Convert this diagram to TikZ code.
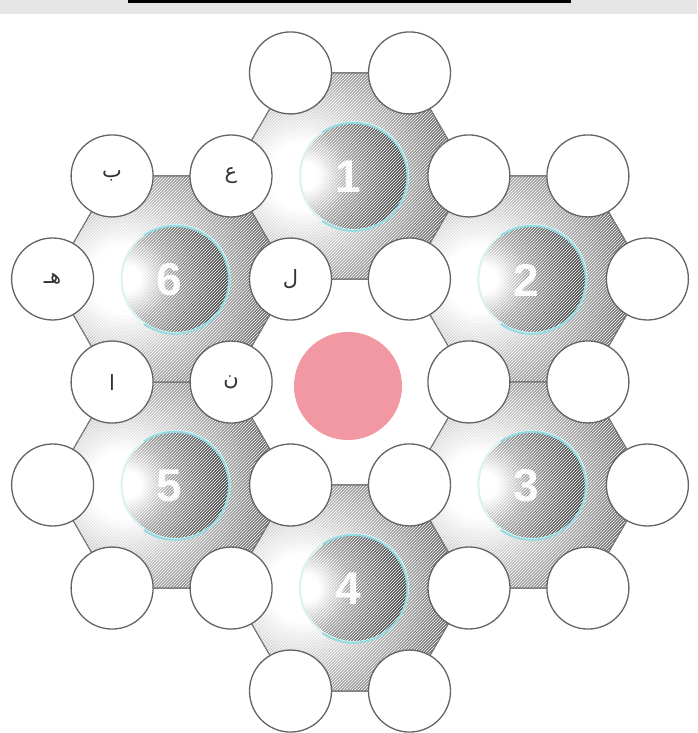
\documentclass[tikz,border=0pt]{standalone}
\usepackage{fontspec}
\newfontfamily\arabicfont[Script=Arabic]{DejaVu Sans}
\newfontfamily\digfont{Liberation Sans}
\TeXXeTstate=1
\usetikzlibrary{calc,patterns}
\definecolor{bandgray}{RGB}{229,229,229}
\definecolor{rimgray}{RGB}{100,100,100}
\definecolor{edgegray}{RGB}{120,120,120}
\definecolor{pinkc}{RGB}{242,152,162}
\definecolor{cyanring}{RGB}{150,218,225}
\definecolor{inkgray}{RGB}{50,50,50}
\def\hexpath#1{($(#1)+(0:119)$) -- ($(#1)+(60:119)$) -- ($(#1)+(120:119)$) -- ($(#1)+(180:119)$) -- ($(#1)+(240:119)$) -- ($(#1)+(300:119)$) -- cycle}
\begin{document}
\begin{tikzpicture}[x=1pt,y=1pt,
  spot/.style={circle, draw=rimgray, line width=1.3pt, fill=white, minimum size=82pt, inner sep=0pt,
    text=inkgray, font=\arabicfont\fontsize{21}{21}\selectfont},
  hatch/.style={pattern=north east lines, pattern color=white, fill opacity=.22},
  hexrim/.style={draw=edgegray, line width=1.2pt},
  ring/.style={circle, minimum size=108pt, inner sep=0pt, draw=cyanring!35!white, line width=2pt},
  ringarc/.style={draw=cyanring, line width=2pt},
  digit/.style={font=\digfont\bfseries\fontsize{46}{46}\selectfont, text=white, text opacity=.95},
  hub/.style={circle, fill=pinkc, minimum size=108pt, inner sep=0pt}]
\useasboundingbox (0,0) rectangle (697,733);
\fill[white] (0,0) rectangle (697,733);
\fill[bandgray] (0,719) rectangle (697,733);
\draw[line width=3pt] (128,731.5) -- (571,731.5);
\coordinate (O) at (350,351);
\foreach \k/\a in {1/90,2/30,3/-30,4/-90,5/-150,6/150}{
  \coordinate (H\k) at ($(O)+(\a:206)$);
}
% hexagon cells lit from the left
\foreach \k in {1,...,6}{
  \begin{scope}
    \clip \hexpath{H\k};
    \foreach \r in {180,176,...,32}{
      \pgfmathsetmacro\p{max(0,min(60,(\r-35)*0.5))}
      \fill[black!\p!white] ($(H\k)+(-48,0)$) circle (\r);
    }
  \end{scope}
  \fill[hatch] \hexpath{H\k};
  \draw[hexrim] \hexpath{H\k};
}
% spheres
\foreach \k in {1,...,6}{
  \coordinate (SC\k) at ($(H\k)+(4,0)$);
  \begin{scope}
    \clip (SC\k) circle (54);
    \foreach \r in {104,101,...,14}{
      \pgfmathsetmacro\p{max(0,min(72,\r<45 ? (\r-15)*1.2 : 36+(\r-45)*0.65))}
      \fill[black!\p!white] ($(SC\k)+(-48,0)$) circle (\r);
    }
  \end{scope}
  \fill[hatch] (SC\k) circle (54);
  \node[ring] (S\k) at (SC\k) {};
  \draw[ringarc] (S\k.-125) arc (-125:125:54);
  \node[digit] (N\k) at ($(H\k)+(-2,-1)$) {\k};
}
\node[hub] (C) at (348,347) {};
\foreach \k/\a/\li/\ls/\loa/\lob in {1/90/ل/ع//, 2/30////, 3/-30////, 4/-90////, 5/-150////, 6/150/ن/ا/هـ/ب}{
  \node[spot] (in\k) at ($(H\k)+(\a+150:119)$) {\beginR\li\endR};
  \node[spot] (sh\k) at ($(H\k)+(\a+90:119)$) {\beginR\ls\endR};
  \node[spot] (oa\k) at ($(H\k)+(\a+30:119)$) {\beginR\loa\endR};
  \node[spot] (ob\k) at ($(H\k)+(\a-30:119)$) {\beginR\lob\endR};
}
\end{tikzpicture}
\end{document}
